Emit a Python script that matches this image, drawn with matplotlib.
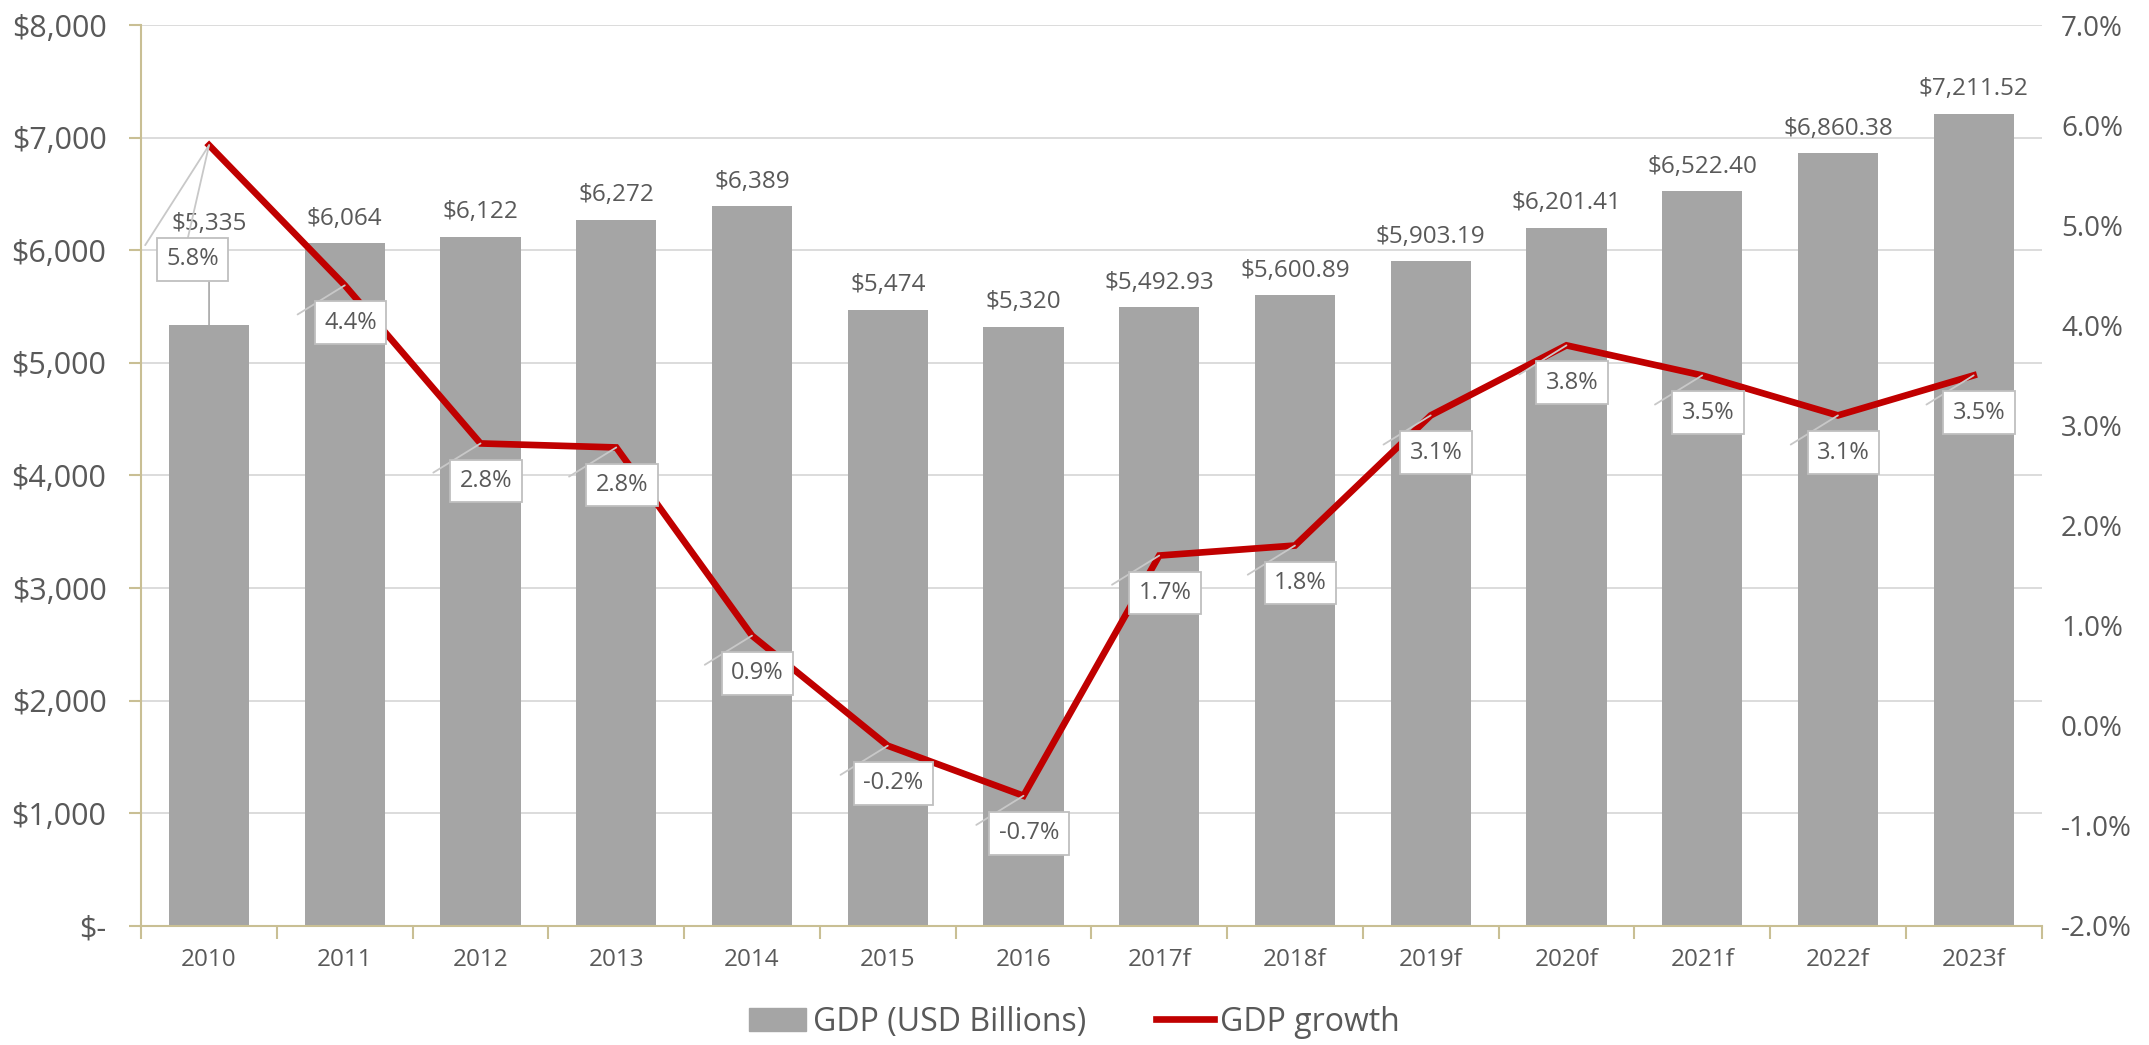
import matplotlib
matplotlib.use("Agg")
import matplotlib.pyplot as plt
import matplotlib.ticker as mticker
from matplotlib.lines import Line2D
from matplotlib.patches import Patch

plt.rcParams["font.family"] = ["Open Sans", "DejaVu Sans"]

# ── Data ────────────────────────────────────────────────────────────────────
years = ["2010", "2011", "2012", "2013", "2014", "2015", "2016",
         "2017f", "2018f", "2019f", "2020f", "2021f", "2022f", "2023f"]
gdp = [5335, 6064, 6122, 6272, 6389, 5474, 5320,
       5492.93, 5600.89, 5903.19, 6201.41, 6522.40, 6860.38, 7211.52]
gdp_labels = ["$5,335", "$6,064", "$6,122", "$6,272", "$6,389", "$5,474", "$5,320",
              "$5,492.93", "$5,600.89", "$5,903.19", "$6,201.41", "$6,522.40",
              "$6,860.38", "$7,211.52"]
growth = [5.8, 4.4, 2.82, 2.78, 0.9, -0.2, -0.7, 1.7, 1.8, 3.1, 3.8, 3.5, 3.1, 3.5]
growth_labels = ["5.8%", "4.4%", "2.8%", "2.8%", "0.9%", "-0.2%", "-0.7%",
                 "1.7%", "1.8%", "3.1%", "3.8%", "3.5%", "3.1%", "3.5%"]

BAR = "#A5A5A5"
RED = "#C00000"
TXT = "#595959"
AXIS = "#C9BF94"
GRID = "#D9D9D9"
LEAD = "#C8C8C8"

fig = plt.figure(figsize=(21.49, 10.45), dpi=100)
ax = fig.add_axes([0.0657, 0.114, 0.8843, 0.862])
ax2 = ax.twinx()

x = list(range(len(years)))
ax.bar(x, gdp, width=0.59, color=BAR, zorder=2)
ax.set_xlim(-0.5, len(years) - 0.5)
ax.set_ylim(0, 8000)
ax.set_yticks(range(0, 8001, 1000))
ax.yaxis.set_major_formatter(mticker.FuncFormatter(
    lambda v, p: "$-" if v == 0 else f"${v:,.0f}"))
ax.grid(axis="y", color=GRID, linewidth=1.3, zorder=0)
ax.set_axisbelow(True)

for s in ["top", "right"]:
    ax.spines[s].set_visible(False)
for s in ["top", "right", "left", "bottom"]:
    ax2.spines[s].set_visible(False)
ax.spines["left"].set_color(AXIS)
ax.spines["bottom"].set_color(AXIS)
ax.spines["left"].set_linewidth(1.5)
ax.spines["bottom"].set_linewidth(1.5)

ax.set_xticks(x)
ax.set_xticklabels(years)
ax.set_xticks([i + 0.5 for i in x[:-1]] + [-0.5, len(years) - 0.5], minor=True)
ax.tick_params(axis="x", which="major", length=0, pad=16, labelsize=17.5, labelcolor=TXT)
ax.tick_params(axis="x", which="minor", length=9, width=1.5, color=AXIS)
ax.tick_params(axis="y", length=9, width=1.5, color=AXIS, pad=16,
               labelsize=22, labelcolor=TXT)

for i, v in enumerate(gdp):
    dy = 64 if i == 0 else 9
    ax.annotate(gdp_labels[i], (i, v), xytext=(0, dy), textcoords="offset points",
                ha="center", va="bottom", fontsize=17.5, color=TXT)

# connector from the 2010 label box down to its bar
ax.annotate("", xy=(0, gdp[0]), xytext=(0, 31), textcoords="offset points",
            arrowprops=dict(arrowstyle="-", color="#A6A6A6", lw=1.2,
                            shrinkA=0, shrinkB=0))

# ── Growth line ─────────────────────────────────────────────────────────────
ax2.plot(x, growth, color=RED, linewidth=4.8, solid_joinstyle="miter", zorder=3)
ax2.set_ylim(-2, 7)
ax2.set_yticks(range(-2, 8))
ax2.yaxis.set_major_formatter(mticker.FuncFormatter(lambda v, p: f"{v:.1f}%"))
ax2.tick_params(axis="y", length=0, pad=14, labelsize=20, labelcolor=TXT)

box = dict(boxstyle="square,pad=0.4", facecolor="white", edgecolor="#BFBFBF", linewidth=1.3)
for i, g in enumerate(growth):
    if i == 0:
        off = (-12, -82)
        for lx, ly in [(-46, -72), (-16, -70)]:
            ax2.annotate("", xy=(i, g), xytext=(lx, ly), textcoords="offset points",
                         arrowprops=dict(arrowstyle="-", color=LEAD, lw=1.3,
                                         shrinkA=0, shrinkB=0))
    else:
        off = (4, -27)
        ax2.annotate("", xy=(i, g), xytext=(-34, -21), textcoords="offset points",
                     arrowprops=dict(arrowstyle="-", color=LEAD, lw=1.3,
                                     shrinkA=0, shrinkB=0))
    ax2.annotate(growth_labels[i], (i, g), xytext=off, textcoords="offset points",
                 ha="center", va="center", fontsize=17, color=TXT, bbox=box, zorder=5)

handles = [Patch(color=BAR, label="GDP (USD Billions)"),
           Line2D([0], [0], color=RED, linewidth=4.8, label="GDP growth")]
leg = fig.legend(handles=handles, loc="center", bbox_to_anchor=(0.5, 0.022), ncol=2,
                 frameon=False, fontsize=23, handlelength=1.8, handletextpad=0.2,
                 columnspacing=2.2)
for t in leg.get_texts():
    t.set_color(TXT)

fig.savefig("out.png", dpi=100)
